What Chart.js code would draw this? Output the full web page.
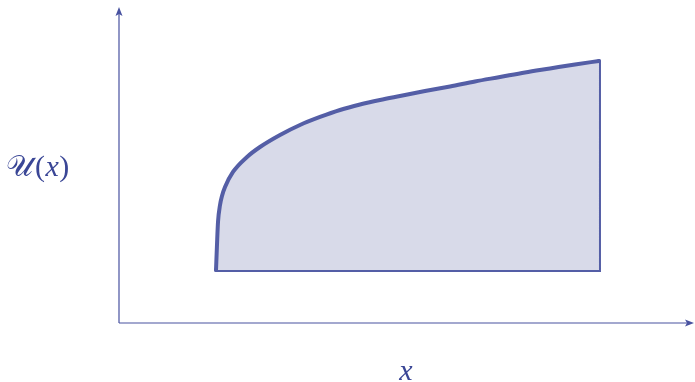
<!DOCTYPE html>
<html>
<head>
<meta charset="utf-8">
<script src="https://cdn.jsdelivr.net/npm/chart.js@4.4.0/dist/chart.umd.min.js"></script>
<style>
  html, body { margin: 0; padding: 0; background: #fff; }
  canvas { display: block; }
</style>
</head>
<body>
<canvas id="chart" width="695" height="382"></canvas>
<script>
// curve U(x), in axis units (x: 0..10, y: 0..5.5)
const curveX = [1.690, 1.707, 1.725, 1.760, 1.794, 1.847, 1.986, 2.230, 2.456, 2.805, 3.153,
                3.502, 3.850, 4.199, 4.547, 4.895, 5.331, 5.767, 6.202, 6.638, 7.073,
                7.509, 7.944, 8.362];
const curveY = [0.925, 1.362, 1.764, 2.060, 2.218, 2.375, 2.637, 2.899, 3.073, 3.283, 3.457,
                3.597, 3.719, 3.815, 3.894, 3.964, 4.051, 4.130, 4.217, 4.295, 4.374,
                4.444, 4.514, 4.575];
const baseY = 0.925;
const xLabel = 'x';
const yLabel = ['𝒰', '(', 'x', ')'];

const stroke = 'rgb(84, 94, 166)';
const fillCol = 'rgb(216, 218, 233)';
const axisCol = 'rgb(72, 82, 160)';
const textCol = 'rgb(58, 70, 150)';

const curve = curveX.map((x, i) => ({x: x, y: curveY[i]}));
const last = curveX.length - 1;
// right edge and bottom edge
const edges = [
    {x: curveX[last], y: curveY[last]},
    {x: curveX[last], y: baseY},
    {x: curveX[0], y: baseY}
];

// axes with arrow heads plus the two labels
const axesPlugin = {
    id: 'axes',
    beforeDatasetsDraw(chart) {
        const ctx = chart.ctx;
        const a = chart.chartArea;
        ctx.save();
        ctx.strokeStyle = axisCol;
        ctx.fillStyle = axisCol;
        ctx.lineWidth = 1.2;
        ctx.beginPath();
        ctx.moveTo(a.left, a.bottom);
        ctx.lineTo(a.left, a.top + 4);
        ctx.moveTo(a.left, a.bottom);
        ctx.lineTo(a.right - 4, a.bottom);
        ctx.stroke();
        // arrow up
        ctx.beginPath();
        ctx.moveTo(a.left, a.top - 1);
        ctx.lineTo(a.left - 3.5, a.top + 8);
        ctx.lineTo(a.left, a.top + 6);
        ctx.lineTo(a.left + 3.5, a.top + 8);
        ctx.closePath();
        ctx.fill();
        // arrow right
        ctx.beginPath();
        ctx.moveTo(a.right + 1, a.bottom);
        ctx.lineTo(a.right - 8, a.bottom - 3.5);
        ctx.lineTo(a.right - 6, a.bottom);
        ctx.lineTo(a.right - 8, a.bottom + 3.5);
        ctx.closePath();
        ctx.fill();

        ctx.fillStyle = textCol;
        ctx.textBaseline = 'alphabetic';
        ctx.textAlign = 'center';
        ctx.font = 'italic 30px "Liberation Serif", serif';
        ctx.fillText(xLabel, 406, 380);

        // y label drawn piece by piece so the x is italic
        ctx.textAlign = 'left';
        const fonts = ['30px "DejaVu Serif", serif', '30px "Liberation Serif", serif',
                       'italic 30px "Liberation Serif", serif', '30px "Liberation Serif", serif'];
        let px = 6;
        yLabel.forEach((s, i) => {
            ctx.font = fonts[i];
            ctx.fillText(s, px, 176);
            px += ctx.measureText(s).width + (i === 0 ? 2 : 0.5);
        });
        ctx.restore();
    }
};

new Chart(document.getElementById('chart'), {
    type: 'scatter',
    data: {
        datasets: [
            {
                data: curve,
                showLine: true,
                borderColor: stroke,
                borderWidth: 4,
                backgroundColor: fillCol,
                fill: {value: baseY},
                cubicInterpolationMode: 'monotone',
                pointRadius: 0,
                borderCapStyle: 'round',
                borderJoinStyle: 'round'
            },
            {
                data: edges,
                showLine: true,
                borderColor: stroke,
                borderWidth: 4,
                fill: false,
                tension: 0,
                pointRadius: 0,
                borderCapStyle: 'round',
                borderJoinStyle: 'miter'
            }
        ]
    },
    options: {
        responsive: false,
        animation: false,
        layout: {padding: {left: 119, top: 8, right: 2, bottom: 59}},
        scales: {
            x: {type: 'linear', min: 0, max: 10, display: false},
            y: {type: 'linear', min: 0, max: 5.5, display: false}
        },
        plugins: {
            legend: {display: false},
            tooltip: {enabled: false}
        }
    },
    plugins: [axesPlugin]
});
</script>
</body>
</html>
